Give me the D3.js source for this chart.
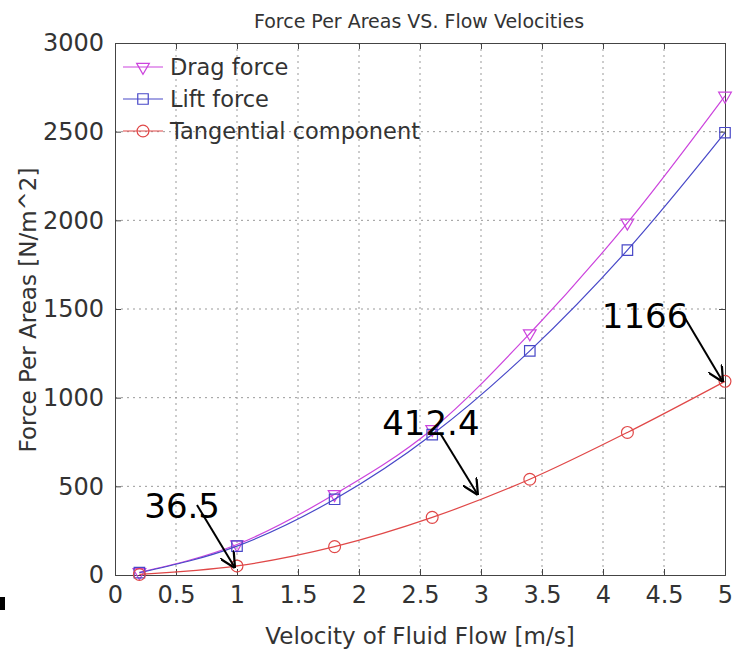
<!DOCTYPE html>
<html>
<head>
<meta charset="utf-8">
<script src="https://cdn.jsdelivr.net/npm/d3@7"></script>
<style>
  body { margin: 0; background: #fff; }
  svg text { font-family: "DejaVu Sans", Verdana, sans-serif; fill: #333; }
  .grid line { stroke: #999; stroke-dasharray: 2,4; }
  .note { font-family: "DejaVu Sans", sans-serif; fill: #000 !important; }
</style>
</head>
<body>
<div id="chart"></div>
<script>
// data
var velocities = [0.2, 1, 1.8, 2.6, 3.4, 4.2, 5];
var dragForce = [15, 172, 455, 822, 1362, 1986, 2702];
var liftForce = [13, 163, 427, 792, 1264, 1832, 2494];
var tangential = [3, 51, 160, 325, 540, 804, 1092];
var seriesNames = ["Drag force", "Lift force", "Tangential component"];
var xTicks = [0, 0.5, 1, 1.5, 2, 2.5, 3, 3.5, 4, 4.5, 5];
var yTicks = [0, 500, 1000, 1500, 2000, 2500, 3000];
// annotations: label, where the text starts [x, y], arrow start and end [x, y]
var noteLabels = ["36.5", "412.4", "1166"];
var noteAnchors = [[0.24, 321], [2.19, 789], [3.99, 1393]];
var arrowStarts = [[0.672, 395], [2.664, 801], [4.672, 1449]];
var noteTargets = [[0.984, 39], [2.975, 451], [4.984, 1088]];

var width = 734, height = 651;
var margin = {top: 43, right: 10, bottom: 75, left: 115};
var plotW = 725 - margin.left, plotH = 575 - margin.top;

var svg = d3.select("#chart").append("svg")
    .attr("width", width)
    .attr("height", height);

// little black mark on the left edge
svg.append("rect").attr("x", 0).attr("y", 597).attr("width", 5).attr("height", 13).attr("fill", "#000");

var g = svg.append("g")
    .attr("transform", "translate(" + margin.left + "," + margin.top + ")");

var x = d3.scaleLinear().domain([0, 5]).range([0, plotW]);
var y = d3.scaleLinear().domain([0, 3000]).range([plotH, 0]);

// grid
g.append("g").attr("class", "grid")
    .selectAll("line").data(xTicks.slice(1, -1)).enter().append("line")
    .attr("x1", d => x(d)).attr("x2", d => x(d))
    .attr("y1", 0).attr("y2", plotH);
g.append("g").attr("class", "grid")
    .selectAll("line").data(yTicks.slice(1, -1)).enter().append("line")
    .attr("x1", 0).attr("x2", plotW)
    .attr("y1", d => y(d)).attr("y2", d => y(d));

// axes
var xAxis = d3.axisBottom(x).tickValues(xTicks).tickSize(-6).tickPadding(11).tickFormat(d3.format("~g"));
var yAxis = d3.axisLeft(y).tickValues(yTicks).tickSize(-6).tickPadding(11).tickFormat(d3.format("d"));

var gx = g.append("g").attr("transform", "translate(0," + plotH + ")").call(xAxis);
var gy = g.append("g").call(yAxis);
g.append("g").call(d3.axisTop(x).tickValues(xTicks).tickSize(-6).tickFormat(""));
g.append("g").attr("transform", "translate(" + plotW + ",0)")
    .call(d3.axisRight(y).tickValues(yTicks).tickSize(-6).tickFormat(""));

g.selectAll(".domain").attr("stroke", "#444");
g.selectAll(".tick line").attr("stroke", "#444");
gx.selectAll("text").style("font-size", "24px").style("font-family", "DejaVu Sans").attr("fill", "#333");
gy.selectAll("text").style("font-size", "24px").style("font-family", "DejaVu Sans").attr("fill", "#333");

// titles
svg.append("text").attr("x", 419).attr("y", 28).attr("text-anchor", "middle")
    .style("font-size", "19px").text("Force Per Areas VS. Flow Velocities");
svg.append("text").attr("x", 420).attr("y", 644).attr("text-anchor", "middle")
    .style("font-size", "23px").text("Velocity of Fluid Flow [m/s]");
svg.append("text").attr("transform", "translate(36,310) rotate(-90)").attr("text-anchor", "middle")
    .style("font-size", "23px").text("Force Per Areas [N/m^2]");

// series
var colors = ["#cc44dd", "#4848c8", "#e04848"];
var allSeries = [dragForce, liftForce, tangential];
var line = d3.line()
    .x(d => x(d[0]))
    .y(d => y(d[1]))
    .curve(d3.curveMonotoneX);

var symbols = [
    d3.symbol().type(d3.symbolTriangle).size(70),
    d3.symbol().type(d3.symbolSquare).size(110),
    d3.symbol().type(d3.symbolCircle).size(110)
];

allSeries.forEach(function(vals, i) {
    var pts = velocities.map((v, j) => [v, vals[j]]);
    g.append("path").datum(pts)
        .attr("fill", "none").attr("stroke", colors[i]).attr("stroke-width", 1.2)
        .attr("d", line);
    g.selectAll(".m" + i).data(pts).enter().append("path")
        .attr("class", "m" + i)
        .attr("d", symbols[i])
        .attr("transform", d => "translate(" + x(d[0]) + "," + y(d[1]) + ")" + (i == 0 ? " rotate(180)" : ""))
        .attr("fill", "none").attr("stroke", colors[i]).attr("stroke-width", 1.2);
});

// legend
var legend = g.append("g").attr("transform", "translate(8,24)");
seriesNames.forEach(function(name, i) {
    var row = legend.append("g").attr("transform", "translate(0," + (i * 32) + ")");
    row.append("line").attr("x1", 0).attr("x2", 40).attr("stroke", colors[i]).attr("stroke-width", 1.2);
    row.append("path").attr("d", symbols[i])
        .attr("transform", "translate(20,0)" + (i == 0 ? " rotate(180)" : ""))
        .attr("fill", "none").attr("stroke", colors[i]).attr("stroke-width", 1.2);
    row.append("text").attr("x", 47).attr("y", 8).style("font-size", "22.5px").attr("fill", "#111").text(name);
});

// annotations with arrows
svg.append("defs").append("marker")
    .attr("id", "arrow").attr("viewBox", "0 0 10 10")
    .attr("refX", 10).attr("refY", 5)
    .attr("markerWidth", 16).attr("markerHeight", 16).attr("markerUnits", "userSpaceOnUse")
    .attr("orient", "auto")
    .append("path").attr("d", "M0,0 L10,5 L0,10").attr("fill", "none").attr("stroke", "#000").attr("stroke-width", 1.4);

noteLabels.forEach(function(lbl, i) {
    g.append("line")
        .attr("x1", x(arrowStarts[i][0])).attr("y1", y(arrowStarts[i][1]))
        .attr("x2", x(noteTargets[i][0])).attr("y2", y(noteTargets[i][1]))
        .attr("stroke", "#000").attr("stroke-width", 2)
        .attr("marker-end", "url(#arrow)");
    g.append("text").attr("class", "note")
        .attr("x", x(noteAnchors[i][0])).attr("y", y(noteAnchors[i][1]))
        .style("font-size", "34px").text(lbl);
});
</script>
</body>
</html>
